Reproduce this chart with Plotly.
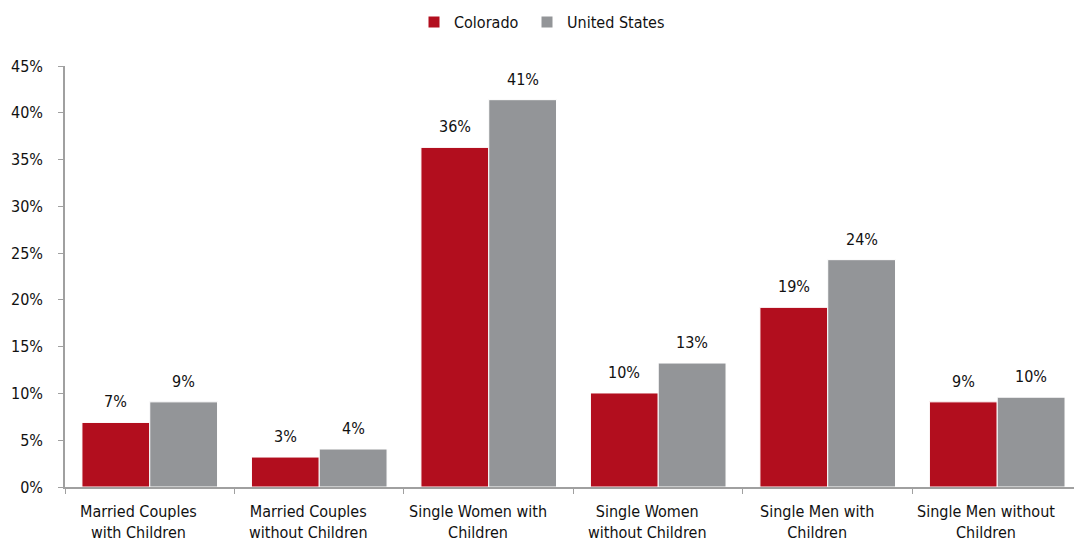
import plotly.graph_objects as go

categories = [
    "Married Couples<br>with Children",
    "Married Couples<br>without Children",
    "Single Women with<br>Children",
    "Single Women<br>without Children",
    "Single Men with<br>Children",
    "Single Men without<br>Children",
]
colorado = [0.069, 0.032, 0.363, 0.1005, 0.192, 0.091]
united_states = [0.091, 0.0406, 0.414, 0.1325, 0.243, 0.096]
y_ticks = [0, 0.05, 0.10, 0.15, 0.20, 0.25, 0.30, 0.35, 0.40, 0.45]

FONT = "Liberation Sans Narrow, Arial Narrow, DejaVu Sans Condensed, sans-serif"
RED = "#B20E1E"
GRAY = "#939598"
AXIS = "#A0A0A0"
TXT = "#111111"

fig = go.Figure()
fig.add_trace(go.Bar(
    name="Colorado", x=categories, y=colorado, legend="legend",
    marker=dict(color=RED, line=dict(color="#FFFFFF", width=1)),
))
fig.add_trace(go.Bar(
    name="United States", x=categories, y=united_states, legend="legend2",
    marker=dict(color=GRAY, line=dict(color="#FFFFFF", width=1)),
))

annotations = []
# value labels above bars
for series, shift in ((colorado, -34), (united_states, 34)):
    for cat, val in zip(categories, series):
        annotations.append(dict(
            x=cat, y=val, xref="x", yref="y", text=f"{val:.0%}",
            showarrow=False, xanchor="center", yanchor="bottom",
            xshift=shift, yshift=9,
            font=dict(size=16, family=FONT, color=TXT),
        ))
# category labels (sit slightly left of the category centre, as in the reference)
for cat in categories:
    annotations.append(dict(
        x=cat, y=0, xref="x", yref="y", text=cat,
        showarrow=False, xanchor="center", yanchor="top", align="center",
        xshift=-11, yshift=-13,
        font=dict(size=16, family=FONT, color=TXT),
    ))

legend_common = dict(
    orientation="h", yref="container", y=0.9906, yanchor="top",
    xref="container", xanchor="left",
    font=dict(size=16, family=FONT, color=TXT),
    itemwidth=30, bgcolor="rgba(0,0,0,0)", borderwidth=0,
)

fig.update_layout(
    width=1074, height=544,
    barmode="group", bargap=0.2, bargroupgap=0,
    plot_bgcolor="white", paper_bgcolor="white",
    font=dict(family=FONT, size=16, color=TXT),
    margin=dict(l=65, r=0, t=66, b=57, autoexpand=False),
    legend=dict(legend_common, x=414 / 1074),
    legend2=dict(legend_common, x=527 / 1074),
    showlegend=True,
    annotations=annotations,
)
fig.update_xaxes(
    range=[-0.5, 5.453], showline=True, linecolor=AXIS, linewidth=1.5,
    ticks="outside", tickson="boundaries", ticklen=5, tickcolor=AXIS,
    showgrid=False, showticklabels=False,
)
fig.update_yaxes(
    range=[0, 0.45], tickvals=y_ticks, tickformat=".0%",
    showline=True, linecolor=AXIS, linewidth=1.5,
    ticks="outside", ticklen=5, tickcolor=AXIS,
    showgrid=False, zeroline=False, ticklabelstandoff=12,
    tickfont=dict(size=16, family=FONT, color=TXT),
)

fig.write_html("out.html", config={"displayModeBar": False},
               post_script="document.body.style.margin='0px';")
